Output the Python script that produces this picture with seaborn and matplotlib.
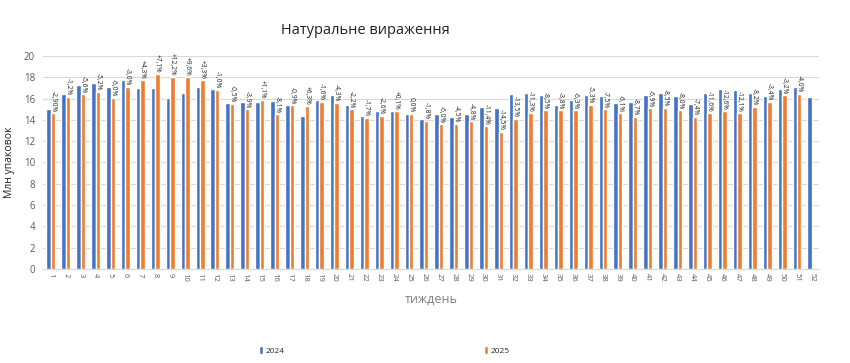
import pandas as pd
import seaborn as sns
import matplotlib.pyplot as plt

weeks = list(range(1, 53))
v2024 = [15.0, 16.4, 17.3, 17.5, 17.1, 17.7, 17.0, 17.0, 16.05, 16.5,
         17.1, 16.9, 15.6, 15.7, 15.7, 15.8, 15.4, 14.4, 15.9, 16.3,
         15.35, 14.4, 14.8, 14.8, 14.55, 14.1, 14.5, 14.25, 14.55, 15.2,
         15.1, 16.4, 16.55, 16.3, 15.4, 15.9, 16.3, 16.2, 15.6, 15.7,
         16.3, 16.5, 16.25, 15.5, 16.5, 16.9, 16.8, 16.5, 16.25, 16.85,
         17.1, 16.15]
v2025 = [14.6, 16.15, 16.4, 16.6, 16.05, 17.1, 17.7, 18.3, 18.0, 18.0,
         17.7, 16.8, 15.5, 15.0, 15.9, 14.5, 15.35, 15.3, 15.7, 15.6,
         15.0, 14.2, 14.4, 14.85, 14.55, 13.9, 13.6, 13.6, 13.85, 13.4,
         12.9, 14.1, 14.65, 14.9, 14.9, 14.9, 15.4, 15.0, 14.65, 14.3,
         15.1, 15.1, 14.9, 14.3, 14.65, 14.8, 14.65, 15.2, 15.7, 16.3,
         16.45]
pct_labels = ['-2,90%', '-1,2%', '-5,6%', '-5,2%', '-6,0%', '-3,0%', '+4,3%',
              '+7,1%', '+12,2%', '+9,6%', '+3,3%', '-1,0%', '-0,5%', '-3,9%',
              '+1,1%', '-8,1%', '-0,9%', '+6,3%', '-1,6%', '-4,3%', '-2,2%',
              '-1,7%', '-2,6%', '+0,1%', '0,0%', '-1,8%', '-6,0%', '-4,5%',
              '-4,8%', '-11,4%', '-14,5%', '-13,5%', '-11,3%', '-8,5%', '-3,8%',
              '-6,3%', '-5,3%', '-7,5%', '-6,1%', '-8,7%', '-6,9%', '-8,5%',
              '-8,0%', '-7,4%', '-11,6%', '-12,6%', '-12,1%', '-8,2%', '-3,4%',
              '-3,2%', '-4,0%']

df = pd.concat([
    pd.DataFrame({'week': weeks, 'value': v2024, 'year': '2024'}),
    pd.DataFrame({'week': weeks[:len(v2025)], 'value': v2025, 'year': '2025'}),
])

sns.set_style('white')
plt.rcParams['font.family'] = ['Open Sans', 'DejaVu Sans']

fig = plt.figure(figsize=(8.5, 3.63), dpi=100)
ax = fig.add_axes([0.051, 0.259, 0.913, 0.587])

sns.barplot(data=df, x='week', y='value', hue='year', order=weeks,
            palette={'2024': '#4472C4', '2025': '#ED7D31'},
            width=0.6, gap=0, saturation=1, ax=ax, legend=True)

# % change labels above the 2025 bars
ax.bar_label(ax.containers[1], labels=pct_labels, rotation=-90,
             fontsize=4.8, padding=1, color='#222222')

ax.set_ylim(0, 20)
ax.set_xlim(-0.5, 51.5)
ax.set_yticks(range(0, 21, 2))
ax.yaxis.grid(True, color='#D9D9D9', lw=0.8)
ax.set_axisbelow(True)
for s in ['top', 'right', 'left']:
    ax.spines[s].set_visible(False)
ax.spines['bottom'].set_color('#D9D9D9')
ax.tick_params(axis='x', labelrotation=-90, labelsize=5.5, colors='#595959', length=0, pad=3)
ax.tick_params(axis='y', labelsize=7, colors='#595959', length=0, pad=6)

ax.set_xlabel('тиждень', fontsize=9, color='#7F7F7F', labelpad=8)
ax.set_ylabel('Млн упаковок', fontsize=7.5, color='#222222', labelpad=6)
fig.text(0.43, 0.915, 'Натуральне вираження', ha='center', va='center',
         fontsize=10.5, color='#222222')

handles, labels = ax.get_legend_handles_labels()
ax.get_legend().remove()
fig.legend(handles, labels, loc='center', bbox_to_anchor=(0.452, 0.035), ncol=2,
           frameon=False, fontsize=6, handlelength=0.5, handleheight=1.1,
           handletextpad=0.3, columnspacing=24)

plt.savefig('out.png', dpi=100)
